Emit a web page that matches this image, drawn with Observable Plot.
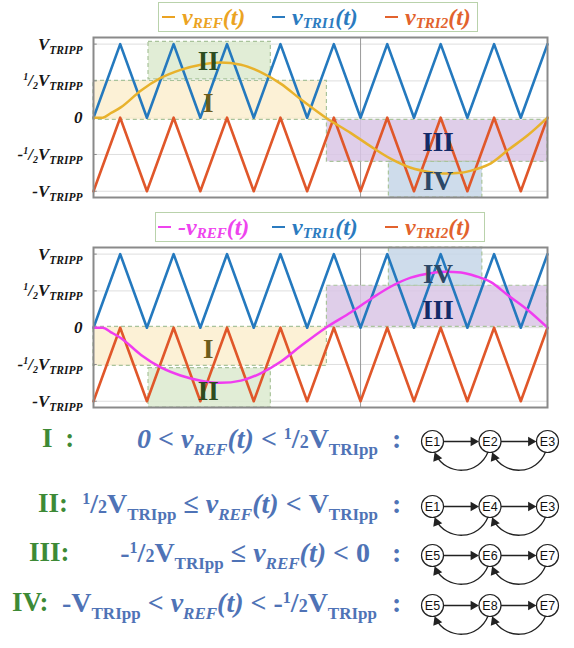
<!DOCTYPE html>
<html><head><meta charset="utf-8">
<script src="https://cdn.jsdelivr.net/npm/d3@7"></script>
<script src="https://cdn.jsdelivr.net/npm/@observablehq/plot@0.6"></script>
<style>
body{margin:0;background:#fff;}
#root{position:relative;width:574px;height:648px;overflow:hidden;font-family:"Liberation Serif","Times New Roman",serif;}
.legend{position:absolute;border:1px solid #b9d2ab;background:#fff;box-sizing:border-box;}
.li{position:absolute;top:0;height:100%;display:flex;align-items:center;font:italic bold 24px "Liberation Serif";white-space:nowrap;}
.dash{display:inline-block;width:13px;height:2px;margin-right:7px;}
.lsub{font-size:15px;position:relative;top:6px;}
.chart{position:absolute;left:0;}
.row{position:absolute;left:0;width:574px;height:36px;line-height:36px;}
.rl{position:absolute;top:0;color:#3d8a36;font:bold 27px "Liberation Serif";white-space:nowrap;word-spacing:6px;}
.fm{position:absolute;top:0;color:#4f73b6;font:bold 28px "Liberation Serif";white-space:nowrap;}
.op{margin:0 7px;}
.sb{font-size:17px;position:relative;top:7px;}
.sp{font-size:16px;position:relative;top:-9px;}
.s2{font-size:18px;}
.diag{position:absolute;left:412px;}
</style>
</head><body><div id="root"></div>
<script>
// ---- data ----
const carrierTimes = [0,0.5,1,1.5,2,2.5,3,3.5,4,4.5,5,5.5,6,6.5,7,7.5,8,8.5];
const tri1Values = [0,1,0,1,0,1,0,1,0,1,0,1,0,1,0,1,0,1];
const tri2Values = [-1,0,-1,0,-1,0,-1,0,-1,0,-1,0,-1,0,-1,0,-1,0];
const refTimes = [0,0.17,0.32,0.51,0.89,1.26,1.63,2.01,2.38,2.76,3.13,3.51,3.88,4.35,4.82,5.19,5.57,5.94,6.31,6.6,6.88,7.16,7.44,7.76,8.13,8.5];
const refValues = [0,0,0.06,0.14,0.37,0.54,0.65,0.72,0.75,0.72,0.62,0.46,0.25,0,-0.21,-0.39,-0.56,-0.68,-0.74,-0.76,-0.75,-0.7,-0.62,-0.44,-0.24,0];
const yTicks = [1,0.5,0,-0.5,-1];
const yTickLabels = ["V_TRIPP","1/2V_TRIPP","0","-1/2V_TRIPP","-V_TRIPP"];
const gridTimes = [5];

const regionNames = ["I","II","III","IV"];
const regionStart = [0,1.03,4.37,5.53];
const regionEnd = [4.37,3.32,8.5,7.28];
const topRegionLow = [-0.03,0.52,-0.6,-1.085];
const topRegionHigh = [0.5,1.03,-0.03,-0.6];
const bottomRegionLow = [-0.52,-1.085,0.01,0.57];
const bottomRegionHigh = [0.01,-0.55,0.57,1.09];
const labelTimes = [2.15,2.15,6.45,6.45];
const topLabelValues = [0.2,0.76,-0.33,-0.87];
const bottomLabelValues = [-0.29,-0.87,0.24,0.73];
const regionFills = ["#fbefcf","#dceacf","#d9c6e5","#c6d6e8"];
const regionLabelColors = ["#6d5c1c","#2d4c20","#132a68","#2c4866"];

const seriesColors = {REF:"#e8b22c", NREF:"#f03cf0", TRI1:"#2479be", TRI2:"#e0572a"};
const legendTextColors = {REF:"#eba322", NREF:"#ee44ee", TRI1:"#2b7bbf", TRI2:"#e2622d"};

const rowLabels = ["I :","II:","III:","IV:"];
const stateRows = [["E1","E2","E3"],["E1","E4","E3"],["E5","E6","E7"],["E5","E8","E7"]];
const stateCols = [0,1,2];
const forwardEdges = [[0,1],[1,2]];
const backEdges = [[1,0],[2,1]];

// ---- layout helpers ----
const root = document.getElementById("root");
const BD = "Liberation Serif";

function tickMarkup(s){
  if (s === "0") return "0";
  let out = "";
  let rest = s;
  if (rest.startsWith("-")) { out += "-"; rest = rest.slice(1); }
  if (rest.startsWith("1/2")) {
    out += '<tspan font-size="10" dy="-6">1</tspan><tspan dy="6">/</tspan><tspan font-size="10" dy="3">2</tspan><tspan dy="-3">V</tspan>';
  } else out += "V";
  out += '<tspan font-size="11.5" dy="4">TRIPP</tspan>';
  return out;
}

function drawChart(refSign, refColor, low, high, labelVals, top){
  const tri1 = carrierTimes.map((t,i)=>({t, v:tri1Values[i]}));
  const tri2 = carrierTimes.map((t,i)=>({t, v:tri2Values[i]}));
  const ref = refTimes.map((t,i)=>({t, v:refSign*refValues[i]}));
  const regions = regionNames.map((n,i)=>({n, t1:regionStart[i], t2:regionEnd[i], y1:low[i], y2:high[i],
    fill:regionFills[i], lc:regionLabelColors[i], lt:labelTimes[i], ly:labelVals[i]}));
  const svg = Plot.plot({
    width:574, height:166, marginLeft:93, marginRight:27, marginTop:2, marginBottom:4,
    x:{domain:[0,8.5], axis:null},
    y:{domain:[-1.085,1.09], ticks:yTicks, tickFormat:d=>yTickLabels[yTicks.indexOf(d)], tickSize:0, tickPadding:11, label:null},
    color:{type:"identity"},
    style:{fontFamily:BD, fontSize:"17px", color:"#151515", background:"transparent", overflow:"visible"},
    marks:[
      Plot.ruleY(yTicks,{stroke:"#dedede", strokeWidth:1}),
      Plot.ruleX(gridTimes,{stroke:"#9a9a9a", strokeWidth:1}),
      Plot.rect(regions,{x1:"t1",x2:"t2",y1:"y1",y2:"y2",fill:"fill",fillOpacity:0.85,stroke:"#a9c39b",strokeDasharray:"4,3",strokeWidth:1.2}),
      Plot.ruleY(yTicks,{x1:0,x2:0.07,stroke:"#8a8a8a",strokeWidth:1}),
      Plot.line(tri2,{x:"t",y:"v",stroke:seriesColors.TRI2,strokeWidth:2.6}),
      Plot.line(tri1,{x:"t",y:"v",stroke:seriesColors.TRI1,strokeWidth:2.6}),
      Plot.line(ref,{x:"t",y:"v",stroke:refColor,strokeWidth:2.5,curve:"monotone-x"}),
      Plot.text(regions,{x:"lt",y:"ly",text:"n",fill:"lc",fontSize:27,fontWeight:"bold",fontFamily:BD,fontStyle:"normal"}),
      Plot.frame({stroke:"#8a8a8a",strokeWidth:2})
    ]
  });
  svg.querySelectorAll('g[aria-label="y-axis tick label"] text').forEach(t=>{
    const k = t.textContent;
    t.innerHTML = tickMarkup(k);
    t.setAttribute("font-style","italic");
    t.setAttribute("font-weight","bold");
  });
  svg.classList.add("chart");
  svg.style.top = top + "px";
  root.appendChild(svg);
}

function legendItem(key, left, neg){
  const el = document.createElement("div");
  el.className = "li";
  el.style.left = left + "px";
  el.style.color = legendTextColors[key];
  const sub = key === "NREF" ? "REF" : key;
  el.innerHTML = `<span class="dash" style="background:${legendTextColors[key]}"></span>${neg?"-":""}v<span class="lsub">${sub}</span>(t)`;
  return el;
}
function drawLegend(top, left, width, keys, lefts){
  const box = document.createElement("div");
  box.className = "legend";
  box.style.top = top+"px"; box.style.left = left+"px"; box.style.width = width+"px"; box.style.height = "30px";
  keys.forEach((k,i)=>box.appendChild(legendItem(k, lefts[i], k==="NREF")));
  root.appendChild(box);
}

drawLegend(2, 158, 320, ["REF","TRI1","TRI2"], [3,113,226]);
drawChart(1, seriesColors.REF, topRegionLow, topRegionHigh, topLabelValues, 34.7);
drawLegend(212, 155, 330, ["NREF","TRI1","TRI2"], [2,116,229]);
drawChart(-1, seriesColors.NREF, bottomRegionLow, bottomRegionHigh, bottomLabelValues, 244.7);

// ---- conditions ----
const half = '<span class="sp">1</span>/<span class="s2">2</span>';
const tri = 'V<span class="sb">TRIpp</span>';
const vref = '<i>v</i><span class="sb"><i>REF</i></span><i>(t)</i>';
const lt = '<span class="op">&lt;</span>';
const le = '<span class="op">≤</span>';
const formulas = [
  `<i>0</i>${lt}${vref}${lt}${half}${tri}`,
  `${half}${tri}${le}${vref}${lt}${tri}`,
  `-${half}${tri}${le}${vref}${lt}0`,
  `-${tri}${lt}${vref}${lt}-${half}${tri}`
];
const rowY = [441,506,555,605];
const labelLeft = [42,38,29,12];
const formulaRight = [378,378,370,377];

rowLabels.forEach((lab,i)=>{
  const row = document.createElement("div");
  row.className = "row";
  row.style.top = (rowY[i]-18)+"px";
  row.innerHTML = `<span class="rl" style="left:${labelLeft[i]}px">${lab}</span>`+
    `<span class="fm" style="right:${574-formulaRight[i]}px">${formulas[i]}</span>`+
    `<span class="fm" style="left:392px">:</span>`;
  root.appendChild(row);

  const nodes = stateCols.map(c=>({c, s:stateRows[i][c]}));
  const fwd = forwardEdges.map(([a,b])=>({a,b}));
  const back = backEdges.map(([a,b])=>({a,b}));
  const d = Plot.plot({
    width:150, height:52, margin:0,
    x:{domain:[0,2], range:[20,135], axis:null},
    y:{domain:[0,1], range:[14,48], axis:null},
    style:{background:"transparent", overflow:"visible"},
    marks:[
      Plot.arrow(fwd,{x1:"a",y1:()=>0,x2:"b",y2:()=>0,bend:0,headLength:0,insetStart:11,insetEnd:15,stroke:"#222",strokeWidth:1.3}),
      Plot.dot(fwd,{x:"b",y:()=>0,symbol:"triangle",r:3.6,rotate:90,dx:-16.6,fill:"#222",stroke:"none"}),
      Plot.arrow(back,{x1:"a",y1:()=>0,x2:"b",y2:()=>0,bend:90,headLength:0,insetStart:11,insetEnd:14,stroke:"#222",strokeWidth:1.3}),
      Plot.dot(back,{x:"b",y:()=>0,symbol:"triangle",r:3.6,rotate:-22,dx:4.2,dy:15.9,fill:"#222",stroke:"none"}),
      Plot.dot(nodes,{x:"c",y:()=>0,r:11,fill:"white",stroke:"#222",strokeWidth:1.2}),
      Plot.text(nodes,{x:"c",y:()=>0,text:"s",fontFamily:"Liberation Sans",fontSize:12.5,fill:"#111"})
    ]
  });
  d.classList.add("diag");
  d.style.top = (rowY[i]-14)+"px";
  root.appendChild(d);
});
</script>
</body></html>
